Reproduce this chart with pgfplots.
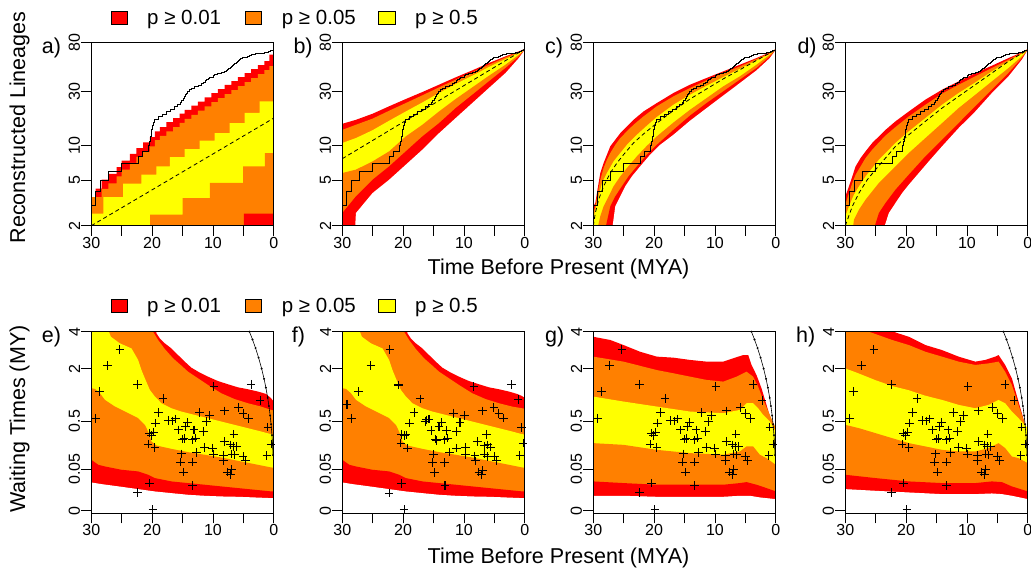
\documentclass[border=0pt]{standalone}
\usepackage{fontspec}
\setmainfont{Liberation Sans}
\usepackage{pgfplots}
\usepackage{pgfplotstable}
\pgfplotsset{compat=1.18}
\definecolor{cred}{RGB}{255,0,0}
\definecolor{corange}{RGB}{255,128,0}
\definecolor{cyellow}{RGB}{255,255,0}

\newcommand\band[2]{\addplot[fill=#1,draw=none,forget plot] coordinates {#2} \closedcycle;}
\newcommand\wband[1]{\addplot[fill=white,draw=white,line width=1.2pt,forget plot] coordinates {#1} \closedcycle;}
\newcommand\cband[2]{\addplot[const plot,fill=#1,draw=none,forget plot] coordinates {#2} \closedcycle;}

% observed lineages-through-time (same in all top panels)
\pgfplotstableread{
x y
30 2
30 3
29.29 4
28.47 5
27.21 6
25.03 7
22.30 8
21.6 9
20.66 10
20.38 11
20.25 12
20.15 13
20.05 14
19.95 15
19.8 16
19.56 17
19.0 18
18.3 19
17.6 20
17.0 21
16.4 22
15.8 23
15.4 24
15.1 25
14.9 26
14.7 27
14.55 28
14.4 29
14.2 30
13.9 31
13.5 32
13.0 33
12.4 34
11.9 35
11.5 36
11.2 37
11.0 38
10.8 39
10.5 40
10.0 41
9.7 42
9.2 43
8.6 44
8.1 45
7.8 46
7.6 47
7.4 48
7.2 49
7.0 50
6.8 51
6.6 52
6.4 53
6.2 54
6.0 55
5.8 56
5.6 57
5.4 58
5.1 59
4.8 60
4.4 61
4.0 62
3.6 63
3.0 64
2.2 65
1.5 66
0.9 67
0.6 68
0.3 69
0.1 70
0 70
}\ltt

% observed waiting times (panels e, g, h)
\pgfplotstableread{
x y
25.30 2.929
27.38 2.127
22.40 1.409
28.69 1.178
29.29 0.5515
18.20 0.991
18.91 0.6657
19.45 0.467
17.38 0.5109
16.72 0.5053
16.17 0.5397
15.63 0.3683
14.21 0.4777
14.54 0.4157
13.11 0.3683
12.24 0.659
10.60 0.6005
11.09 0.494
11.58 0.3461
20.49 0.3247
20.11 0.2963
19.78 0.3374
20.66 0.2054
19.56 0.1761
15.03 0.2551
14.75 0.2623
13.39 0.2481
12.84 0.266
9.84 1.332
3.72 1.409
2.24 0.9394
8.09 0.6931
5.79 0.7721
5.03 0.6457
4.15 0.5515
6.56 0.3123
8.14 0.231
7.10 0.1993
6.67 0.1845
6.12 0.1845
11.37 0.1761
10.11 0.1706
9.95 0.1261
12.68 0.1376
15.19 0.1283
15.30 0.0799
13.33 0.0799
14.81 0.0401
8.31 0.1174
8.31 0.0884
6.89 0.1261
6.45 0.1217
5.03 0.1112
4.70 0.0866
7.65 0.0401
6.99 0.0478
7.10 0.0323
20.44 0.01468
13.39 0.01127
22.40 0.00404
19.89 0.000001
0.98 0.4059
0.44 0.2054
1.15 0.1174
}\wtA

% observed waiting times (panel f)
\pgfplotstableread{
x y
22.19 2.929
25.30 2.127
20.77 1.386
27.38 1.178
29.23 0.841
28.47 0.5515
17.21 0.974
18.20 0.659
18.91 0.467
16.39 0.494
16.17 0.522
15.74 0.534
13.66 0.483
14.10 0.411
15.41 0.359
12.90 0.359
11.75 0.646
9.95 0.601
10.66 0.483
11.26 0.346
8.36 1.332
2.19 1.408
1.09 0.965
6.99 0.693
5.08 0.772
4.26 0.646
3.50 0.552
0.55 0.401
6.28 0.312
7.81 0.231
6.61 0.190
6.07 0.199
5.63 0.179
9.73 0.176
11.26 0.171
9.73 0.122
12.35 0.140
15.03 0.126
15.19 0.0783
13.17 0.0783
14.81 0.0390
8.20 0.1153
8.09 0.0866
6.67 0.126
6.17 0.111
4.97 0.111
4.70 0.0866
7.54 0.0401
6.89 0.0455
7.10 0.0323
20.22 0.01415
13.11 0.01083
22.30 0.00382
19.84 0.000001
0.27 0.215
0.82 0.1174
20.33 0.312
19.78 0.296
19.51 0.304
20.38 0.215
19.29 0.171
14.70 0.255
14.54 0.241
13.22 0.248
12.68 0.266
}\wtB

% upper bound: waiting time cannot exceed time before present
\pgfplotstableread{
x y
4 4
3.5 3.5
3 3
2.5 2.5
2 2
1.6 1.6
1.3 1.3
1 1
0.8 0.8
0.6 0.6
0.45 0.45
0.3 0.3
0.2 0.2
0.12 0.12
}\bound

\pgfplotsset{
  panel/.style={scale only axis, width=182.5pt, xmin=0, xmax=30, x dir=reverse,
    axis on top, tick align=outside, major tick length=10pt, minor tick length=10pt,
    xtick={0,10,20,30}, xticklabels={0,10,20,30}, minor xtick={5,15,25},
    xtick pos=bottom, ytick pos=left, yminorticks=false,
    tick style={black, line width=0.8pt}, axis line style={line width=0.8pt},
    ticklabel style={font=\fontsize{16}{16}\selectfont},
    yticklabel style={rotate=90, anchor=south, inner sep=1pt},
    xticklabel style={anchor=north, inner sep=1pt}},
  toppanel/.style={panel, height=183pt, ymin=2, ymax=80,
    ytick={2,5,10,30,80}, yticklabels={2,5,10,30,80}},
  botpanel/.style={panel, height=181.6pt, ymin=-0.023, ymax=1.5874,
    ytick={0,0.3684,0.7937,1.2599,1.5874}, yticklabels={0,0.05,0.5,2,4},
    y filter/.expression={y^(1/3)}},
  obs/.style={const plot, black, line width=0.9pt},
  expd/.style={black, line width=0.8pt, dash pattern=on 4pt off 3pt},
  pts/.style={only marks, mark=+, mark size=4.3pt, black, mark options={line width=1.1pt}},
  bnd/.style={black, line width=0.6pt, mark=*, mark size=0.6pt}
}

\newcommand\lab[1]{\fontsize{21.5}{24}\selectfont #1}

\begin{document}
\begin{tikzpicture}
\path[use as bounding box] (0,0) rectangle (1031pt,569pt);

% ---------------- a ----------------
\begin{semilogyaxis}[toppanel, at={(91.3pt,343.3pt)}, anchor=south west]
\cband{cred}{(30,3.56) (29.29,4.22) (28.31,5.05) (27.21,5.67) (25.85,6.52) (25.03,7.44) (23.66,8.5) (22.57,9.57) (21.48,10.7) (20.38,11.9) (19.56,13.4) (18.74,14.6) (17.65,16.1) (16.56,17.5) (15.46,19.1) (14.64,20.7) (13.55,22.5) (12.46,24.4) (11.37,26.6) (10.27,29.0) (9.18,31.4) (8.09,34.1) (6.99,36.9) (5.90,40.0) (4.81,43.4) (3.72,47.0) (2.62,51.0) (1.53,55.3) (0.71,62.8) (0,62.8)}
\cband{corange}{(30,3.56) (29.29,3.56) (28.31,4.2) (27.21,4.7) (25.85,5.4) (25.03,6.2) (23.66,7.1) (22.57,8.0) (21.48,8.9) (20.38,9.9) (19.56,11.2) (18.74,12.2) (17.65,13.4) (16.56,14.6) (15.46,15.9) (14.64,17.2) (13.55,18.7) (12.46,20.3) (11.37,22.2) (10.27,24.2) (9.18,26.2) (8.09,28.4) (6.99,30.8) (5.90,33.3) (4.81,36.2) (3.72,39.2) (2.62,42.5) (1.53,46.0) (0.71,50.0) (0,50.0)}
\cband{cyellow}{(30,2.55) (28.03,3.56) (24.75,4.66) (21.75,5.59) (19.29,6.61) (17.10,7.98) (14.64,9.38) (12.19,11.1) (9.73,12.9) (7.27,15.8) (4.81,19.4) (2.35,24.5) (0,24.5)}
\cband{corange}{(30,1.5) (20.33,2.50) (14.97,3.49) (10.49,4.73) (5.03,6.61) (1.48,8.65) (0,8.65)}
\cband{cred}{(30,1.5) (4.92,2.55) (0,2.55)}
\addplot[expd] coordinates {(30,2) (0,17.5)};
\addplot[obs] table {\ltt};
\end{semilogyaxis}

% ---------------- b ----------------
\begin{semilogyaxis}[toppanel, at={(342.3pt,343.3pt)}, anchor=south west]
\band{cred}{(30,15.6) (27.76,16.9) (25.03,19.1) (22.30,22.2) (19.56,25.7) (16.83,29.6) (14.10,34.3) (11.37,39.8) (8.63,45.8) (5.90,53.1) (3.17,60.7) (0.98,67.2) (0,70.4)}
\band{corange}{(30,13.8) (27.76,15.3) (25.03,17.3) (22.30,20.3) (19.56,23.7) (16.83,27.7) (14.10,32.5) (11.37,38.0) (8.63,44.0) (5.90,51.3) (3.17,59.5) (0.98,66.3) (0,70.4)}
\band{cyellow}{(30,10.6) (27.76,11.7) (25.03,13.7) (22.30,16.6) (19.56,20.0) (16.83,24.0) (14.10,29.0) (11.37,34.8) (8.63,41.1) (5.90,49.0) (3.17,57.6) (0.98,64.9) (0,70.4)}
\band{corange}{(30,5.78) (27.76,6.19) (25.03,7.31) (22.30,8.95) (19.56,12.1) (16.83,15.3) (14.10,20.0) (11.37,25.7) (8.63,32.5) (5.90,41.1) (3.17,51.3) (0.98,62.8) (0,69.4)}
\band{cred}{(30,2.58) (27.76,3.61) (25.03,5.05) (22.30,6.61) (19.56,8.95) (16.83,12.1) (14.10,15.8) (11.37,21.4) (8.63,28.0) (5.90,36.7) (3.17,48.0) (0.98,60.7) (0,69.4)}
\band{white}{(30,1.5) (28.0,1.5) (27.76,2.58) (25.03,3.86) (22.30,5.05) (19.56,6.84) (16.83,9.26) (14.10,12.9) (11.37,17.5) (8.63,23.7) (5.90,32.1) (3.17,43.4) (0.98,58.7) (0,69.4)}
\addplot[expd] coordinates {(30,7.72) (0,70.4)};
\addplot[obs] table {\ltt};
\end{semilogyaxis}

% ---------------- c ----------------
\begin{semilogyaxis}[toppanel, at={(593.3pt,343.3pt)}, anchor=south west]
\band{cred}{(30,2.95) (29.67,3.16) (29.40,3.86) (29.13,4.73) (28.85,5.78) (28.31,7.07) (27.76,8.37) (27.21,9.90) (26.39,11.3) (25.57,12.9) (24.48,14.8) (23.39,16.9) (21.75,20.0) (19.56,23.7) (16.83,29.0) (14.10,34.3) (11.37,39.3) (8.63,44.9) (5.90,51.3) (3.17,58.7) (0.98,65.8) (0,70.4)}
\band{corange}{(30,2.58) (29.67,2.95) (29.40,3.49) (28.85,5.05) (28.31,6.39) (27.76,7.56) (27.21,8.65) (26.39,10.2) (25.57,11.7) (24.48,13.4) (23.39,15.3) (21.75,18.1) (19.56,22.2) (16.83,27.1) (14.10,32.1) (11.37,37.5) (8.63,43.4) (5.90,49.6) (3.17,57.6) (0.98,64.9) (0,70.4)}
\band{cyellow}{(30,2.26) (29.67,2.76) (29.13,3.61) (28.58,4.73) (27.76,5.78) (26.67,7.31) (25.57,8.65) (24.48,10.2) (22.84,12.5) (21.20,15.0) (19.56,17.9) (16.83,22.9) (14.10,28.0) (11.37,33.6) (8.63,40.0) (5.90,47.3) (3.17,56.0) (0.98,63.6) (0,70.4)}
\band{corange}{(30,1.5) (29.40,1.8) (28.85,2.42) (28.31,2.95) (27.49,3.61) (26.67,4.42) (25.57,5.40) (24.48,6.39) (22.84,8.09) (21.20,10.0) (19.56,12.1) (16.83,16.0) (14.10,20.7) (11.37,26.2) (8.63,33.2) (5.90,40.6) (3.17,51.3) (0.98,62.8) (0,69.4)}
\band{cred}{(30,1.5) (28.1,1.8) (27.21,2.95) (26.39,3.61) (25.30,4.42) (24.21,5.40) (22.84,6.61) (21.20,8.37) (19.56,10.2) (16.83,13.8) (14.10,18.4) (11.37,23.7) (8.63,30.0) (5.90,38.0) (3.17,48.0) (0.98,60.7) (0,69.4)}
\band{white}{(30,1.5) (27.0,1.7) (26.39,2.95) (25.57,3.61) (24.75,4.42) (23.66,5.40) (22.30,6.61) (20.66,8.37) (19.02,10.2) (16.83,12.5) (14.10,16.6) (11.37,21.4) (8.63,27.6) (5.90,35.5) (3.17,45.8) (0.98,58.7) (0,69.4)}
\addplot[expd] coordinates {(30,2) (29.67,2.58) (29.13,3.38) (28.31,4.42) (27.21,5.78) (26.12,7.07) (25.03,8.37) (23.39,10.6) (21.75,12.7) (19.56,15.8) (16.83,20.4) (14.10,25.7) (11.37,31.5) (8.63,38.6) (5.90,46.4) (3.17,56.0) (0,69.4)};
\addplot[obs] table {\ltt};
\end{semilogyaxis}

% ---------------- d ----------------
\begin{semilogyaxis}[toppanel, at={(845.3pt,343.3pt)}, anchor=south west]
\band{cred}{(30,3.61) (29.40,4.42) (28.85,5.40) (28.31,6.61) (27.49,7.82) (26.67,8.95) (25.57,10.6) (24.48,12.1) (23.39,13.8) (21.75,16.4) (19.56,20.0) (16.83,25.4) (14.10,31.0) (11.37,36.7) (8.63,43.4) (5.90,50.3) (3.17,58.7) (0.98,65.8) (0,70.4)}
\band{corange}{(30,3.05) (29.40,3.86) (28.85,4.73) (28.31,5.59) (27.49,6.61) (26.67,7.82) (25.57,9.26) (24.48,10.7) (23.39,12.3) (21.75,14.6) (19.56,18.1) (16.83,22.9) (14.10,28.6) (11.37,34.3) (8.63,40.6) (5.90,48.0) (3.17,56.8) (0.98,64.9) (0,70.4)}
\band{cyellow}{(30,2.42) (29.40,2.95) (28.58,3.74) (27.76,4.42) (26.67,5.40) (25.57,6.39) (24.48,7.56) (23.39,8.65) (21.75,10.6) (19.56,13.4) (16.83,17.5) (14.10,22.9) (11.37,29.0) (8.63,35.9) (5.90,44.9) (3.17,54.9) (0.98,64.0) (0,70.4)}
\band{corange}{(30,1.5) (28.8,1.8) (28.58,2.26) (27.76,2.76) (26.67,3.38) (25.57,4.00) (24.48,4.73) (23.39,5.40) (21.75,6.61) (19.56,8.65) (16.83,11.7) (14.10,15.8) (11.37,21.4) (8.63,28.0) (5.90,36.7) (3.17,48.0) (0.98,60.7) (0,69.4)}
\band{cred}{(30,1.5) (25.4,1.8) (24.48,2.58) (23.39,3.16) (21.75,4.13) (19.56,5.59) (16.83,8.09) (14.10,11.3) (11.37,15.8) (8.63,22.2) (5.90,31.0) (3.17,43.4) (0.98,58.7) (0,69.4)}
\band{white}{(30,1.5) (23.8,1.8) (22.84,2.58) (21.75,3.16) (20.66,3.86) (19.56,4.57) (17.92,5.78) (16.28,7.31) (14.10,9.90) (11.37,14.3) (8.63,20.0) (5.90,29.0) (3.17,40.6) (0.98,56.8) (0,69.4)}
\addplot[expd] coordinates {(30,2) (28.85,2.95) (27.76,3.86) (26.39,5.05) (25.03,6.19) (23.39,7.82) (21.75,9.90) (19.56,12.5) (16.83,16.4) (14.10,21.4) (11.37,27.1) (8.63,34.3) (5.90,43.4) (3.17,54.9) (0,69.4)};
\addplot[obs] table {\ltt};
\end{semilogyaxis}

% ---------------- e ----------------
\begin{axis}[botpanel, at={(91.3pt,55.7pt)}, anchor=south west]
\band{cred}{(30,5) (19.6,5) (19.29,3.89) (18.74,3.57) (17.92,3.27) (16.83,2.98) (15.74,2.63) (14.64,2.31) (13.55,2.04) (12.19,1.84) (10.82,1.68) (9.18,1.52) (7.54,1.41) (5.90,1.31) (4.26,1.25) (2.62,1.18) (1.26,1.11) (0.44,0.99) (0,0.9)}
\band{corange}{(30,5) (20.0,5) (19.84,4.0) (19.02,3.47) (17.92,2.95) (16.56,2.47) (15.19,2.13) (14.10,1.875) (12.46,1.618) (10.82,1.386) (8.63,1.129) (6.45,0.97) (4.26,0.865) (2.08,0.787) (0.44,0.714) (0,0.7)}
\band{cyellow}{(30,5) (27.2,5) (27.10,4.0) (26.78,3.67) (25.30,3.27) (23.39,2.98) (22.30,2.39) (21.75,1.94) (21.20,1.62) (20.38,1.23) (19.56,1.04) (18.47,0.865) (16.83,0.75) (15.19,0.679) (13.01,0.613) (10.82,0.552) (8.63,0.494) (6.45,0.441) (4.26,0.392) (2.08,0.346) (0.44,0.312) (0,0.3)}
\band{corange}{(30,1.279) (29.40,1.26) (28.58,1.129) (27.76,0.948) (26.12,0.787) (23.93,0.646) (22.30,0.552) (21.20,0.441) (20.66,0.346) (20.11,0.231) (19.29,0.193) (16.83,0.165) (14.10,0.140) (11.37,0.122) (8.63,0.105) (5.90,0.0866) (3.17,0.0704) (0.44,0.0564) (0,0.055)}
\band{cred}{(30,0.0919) (28.85,0.0675) (27.76,0.0604) (25.03,0.0478) (22.30,0.0422) (20.66,0.0323) (19.56,0.0242) (16.83,0.0175) (14.10,0.0147) (11.37,0.0122) (8.63,0.00998) (5.90,0.00807) (3.17,0.00642) (0.44,0.00501) (0,0.005)}
\wband{(30,0.0147) (28.31,0.0122) (25.03,0.0088) (22.30,0.00642) (19.56,0.00451) (16.83,0.0034) (14.10,0.0025) (11.37,0.00204) (8.63,0.00177) (5.90,0.00164) (3.17,0.00141) (0.44,0.0012) (0,0.0012)}
\addplot[bnd] table {\bound};
\addplot[pts] table {\wtA};
\end{axis}

% ---------------- f ----------------
\begin{axis}[botpanel, at={(342.3pt,55.7pt)}, anchor=south west]
\band{cred}{(30,5) (19.6,5) (19.29,3.89) (18.74,3.57) (17.92,3.27) (16.83,2.98) (15.74,2.63) (14.64,2.31) (13.55,2.04) (12.19,1.84) (10.82,1.68) (9.18,1.52) (7.54,1.41) (5.90,1.31) (4.26,1.25) (2.62,1.18) (1.26,1.11) (0.44,1.05) (0,1.0)}
\band{corange}{(30,5) (20.0,5) (19.84,4.0) (19.02,3.47) (17.92,2.95) (16.56,2.47) (15.19,2.13) (14.10,1.875) (12.46,1.618) (10.82,1.386) (8.63,1.129) (6.45,0.97) (4.26,0.865) (2.08,0.787) (0.44,0.75) (0,0.74)}
\band{cyellow}{(30,5) (27.2,5) (27.10,4.0) (26.78,3.67) (25.30,3.27) (23.39,2.98) (22.30,2.39) (21.75,1.94) (21.20,1.62) (20.38,1.23) (19.56,1.04) (18.47,0.865) (16.83,0.75) (15.19,0.679) (13.01,0.613) (10.82,0.552) (8.63,0.494) (6.45,0.441) (4.26,0.392) (2.08,0.346) (0.44,0.312) (0,0.31)}
\band{corange}{(30,1.279) (29.40,1.26) (28.58,1.129) (27.76,0.948) (26.12,0.787) (23.93,0.646) (22.30,0.552) (21.20,0.441) (20.66,0.346) (20.11,0.231) (19.29,0.193) (16.83,0.165) (14.10,0.140) (11.37,0.122) (8.63,0.105) (5.90,0.0866) (3.17,0.0704) (0.44,0.0564) (0,0.055)}
\band{cred}{(30,0.0919) (28.85,0.0675) (27.76,0.0604) (25.03,0.0478) (22.30,0.0422) (20.66,0.0323) (19.56,0.0242) (16.83,0.0175) (14.10,0.0147) (11.37,0.0122) (8.63,0.00998) (5.90,0.00807) (3.17,0.00642) (0.44,0.00501) (0,0.005)}
\wband{(30,0.0147) (28.31,0.0122) (25.03,0.0088) (22.30,0.00642) (19.56,0.00451) (16.83,0.0034) (14.10,0.0025) (11.37,0.00204) (8.63,0.00177) (5.90,0.00164) (3.17,0.00141) (0.44,0.0012) (0,0.0012)}
\addplot[pts] table {\wtB};
\end{axis}

% ---------------- g ----------------
\begin{axis}[botpanel, at={(593.3pt,55.7pt)}, anchor=south west]
\band{cred}{(30,3.67) (27.21,3.47) (25.03,3.17) (22.30,2.80) (19.56,2.55) (16.83,2.50) (14.10,2.39) (11.37,2.31) (8.63,2.31) (6.99,2.47) (5.36,2.63) (4.54,2.63) (3.99,2.16) (3.17,1.74) (2.35,1.28) (1.53,0.826) (0.71,0.494) (0,0.39)}
\band{corange}{(30,2.55) (25.03,2.31) (19.56,1.94) (16.83,1.81) (14.10,1.68) (11.37,1.56) (8.63,1.50) (6.45,1.68) (4.81,1.875) (3.72,1.68) (2.90,1.33) (2.08,0.948) (0.98,0.613) (0,0.39)}
\band{cyellow}{(30,1.036) (25.03,0.906) (19.56,0.787) (14.10,0.679) (8.63,0.646) (5.90,0.714) (4.81,0.865) (3.72,0.865) (2.90,0.75) (2.08,0.613) (0.98,0.494) (0,0.346)}
\band{corange}{(30,0.215) (25.03,0.199) (19.56,0.157) (14.10,0.133) (11.37,0.128) (8.63,0.122) (5.90,0.145) (4.81,0.185) (3.72,0.185) (2.62,0.122) (1.53,0.101) (0,0.0675)}
\band{cred}{(30,0.0175) (25.03,0.0147) (19.56,0.0122) (14.10,0.0122) (8.63,0.0122) (5.90,0.0147) (4.81,0.0163) (3.17,0.0122) (1.53,0.00807) (0,0.00501)}
\wband{(30,0.00204) (25.03,0.00204) (19.56,0.00164) (8.63,0.00164) (5.90,0.00204) (4.26,0.00204) (2.62,0.00141) (0,0.000922)}
\addplot[bnd] table {\bound};
\addplot[pts] table {\wtA};
\end{axis}

% ---------------- h ----------------
\begin{axis}[botpanel, at={(845.3pt,55.7pt)}, anchor=south west]
\band{cred}{(30,5) (22.3,5) (21.75,3.95) (19.56,3.67) (16.83,3.17) (14.10,2.89) (11.37,2.55) (8.63,2.31) (6.99,2.39) (5.36,2.55) (4.81,2.63) (3.72,2.16) (2.62,1.62) (1.53,0.906) (0.44,0.441) (0,0.35)}
\band{corange}{(30,5) (26.3,5) (26.12,4.0) (22.30,3.47) (19.56,3.17) (16.83,2.80) (14.10,2.55) (11.37,2.31) (8.63,2.16) (6.45,2.23) (4.81,2.31) (3.72,1.875) (2.62,1.386) (1.53,0.826) (0.44,0.441) (0,0.35)}
\band{cyellow}{(30,2.01) (27.76,1.80) (25.03,1.55) (22.30,1.35) (19.56,1.22) (16.83,1.06) (14.10,0.948) (11.37,0.826) (8.63,0.75) (6.45,0.826) (4.81,0.948) (3.72,0.865) (2.62,0.679) (1.53,0.552) (0,0.392)}
\band{corange}{(30,0.441) (27.76,0.392) (25.03,0.325) (22.30,0.266) (19.56,0.215) (16.83,0.185) (14.10,0.157) (11.37,0.145) (8.63,0.145) (6.45,0.171) (4.81,0.215) (3.72,0.171) (2.62,0.111) (1.53,0.101) (0,0.0751)}
\band{cred}{(30,0.0323) (25.03,0.0242) (19.56,0.0175) (14.10,0.0147) (8.63,0.0147) (5.90,0.0175) (4.26,0.0163) (2.62,0.00998) (0,0.00501)}
\wband{(30,0.00642) (25.03,0.00501) (19.56,0.00382) (14.10,0.00284) (8.63,0.00284) (5.90,0.00321) (4.26,0.00284) (2.62,0.00204) (0,0.000922)}
\addplot[bnd] table {\bound};
\addplot[pts] table {\wtA};
\end{axis}

% ---------------- labels ----------------
\node[rotate=90, inner sep=0pt] at (19.5pt,441.5pt) {\lab{Reconstructed Lineages}};
\node[rotate=90, inner sep=0pt] at (19.5pt,150pt) {\lab{Waiting Times (MY)}};
\node[anchor=base, inner sep=0pt] at (558.5pt,294pt) {\lab{Time Before Present (MYA)}};
\node[anchor=base, inner sep=0pt] at (558.5pt,5.7pt) {\lab{Time Before Present (MYA)}};
\node[anchor=base west, inner sep=0pt] at (41.7pt,515pt) {\lab{a)}};
\node[anchor=base west, inner sep=0pt] at (293.3pt,515pt) {\lab{b)}};
\node[anchor=base west, inner sep=0pt] at (545pt,515pt) {\lab{c)}};
\node[anchor=base west, inner sep=0pt] at (797.3pt,515pt) {\lab{d)}};
\node[anchor=base west, inner sep=0pt] at (41.7pt,226.7pt) {\lab{e)}};
\node[anchor=base west, inner sep=0pt] at (291.7pt,226.7pt) {\lab{f)}};
\node[anchor=base west, inner sep=0pt] at (545pt,226.7pt) {\lab{g)}};
\node[anchor=base west, inner sep=0pt] at (796pt,226.7pt) {\lab{h)}};

% ---------------- legends ----------------
\foreach \yb/\yt in {544/544.7, 256.3/256.3}{
  \draw[fill=cred, line width=0.6pt] (111pt,\yt pt) rectangle (127.7pt,\yt pt+13.4pt);
  \draw[fill=corange, line width=0.6pt] (245pt,\yt pt) rectangle (261.7pt,\yt pt+13.4pt);
  \draw[fill=cyellow, line width=0.6pt] (378.3pt,\yt pt) rectangle (395pt,\yt pt+13.4pt);
  \node[anchor=base west, inner sep=0pt, font=\fontsize{20.5}{22}\selectfont] at (147pt,\yb pt) {p ≥ 0.01};
  \node[anchor=base west, inner sep=0pt, font=\fontsize{20.5}{22}\selectfont] at (281.7pt,\yb pt) {p ≥ 0.05};
  \node[anchor=base west, inner sep=0pt, font=\fontsize{20.5}{22}\selectfont] at (415pt,\yb pt) {p ≥ 0.5};
}
\end{tikzpicture}
\end{document}
